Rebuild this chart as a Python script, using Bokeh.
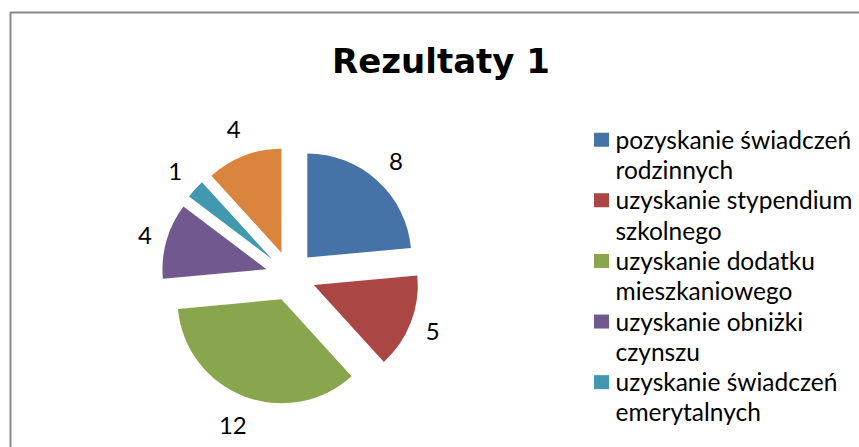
import numpy as np
from bokeh.plotting import figure
from bokeh.models import Range1d
from bokeh.core.properties import value
from bokeh.embed import file_html
from bokeh.resources import INLINE

# ---- data ----
title = "Rezultaty 1"
categories = [
    "pozyskanie świadczeń rodzinnych",
    "uzyskanie stypendium szkolnego",
    "uzyskanie dodatku mieszkaniowego",
    "uzyskanie obniżki czynszu",
    "uzyskanie świadczeń emerytalnych",
    "",  # sixth legend entry is cut off in the original
]
values = [8, 5, 12, 4, 1, 4]
colors = ["#4572A7", "#AA4643", "#89A54E", "#71588F", "#4198AF", "#DB843D"]

# ---- layout (1 data unit = 1 screen pixel) ----
W, H = 859, 447
def X(px):
    return px
def Y(py):
    return H - py

TDY = 8  # empirical correction of text baseline placement
FONT = "Lato"
CX, CY = X(290), Y(275.5)
R = 104
EXPLODE = 25
LABEL_FS = 24

p = figure(width=W, height=H, output_backend="svg", toolbar_location=None,
           x_axis_location=None, y_axis_location=None,
           x_range=Range1d(0, W), y_range=Range1d(0, H),
           min_border=0, outline_line_color=None)
p.grid.visible = False
p.background_fill_color = "white"
p.border_fill_color = "white"

# chart-area border (only top and left edges are visible in the crop)
p.line(x=[X(10), X(10), X(1000)], y=[Y(600), Y(12), Y(12)],
       line_color="#878787", line_width=2)

# ---- exploded pie ----
vals = np.array(values, dtype=float)
frac = vals / vals.sum()
cum = np.concatenate([[0.0], np.cumsum(frac)])
start = np.pi / 2 - 2 * np.pi * cum[:-1]
end = np.pi / 2 - 2 * np.pi * cum[1:]
mid = (start + end) / 2
ux, uy = np.cos(mid), np.sin(mid)
cx = CX + EXPLODE * ux
cy = CY + EXPLODE * uy

p.wedge(x=cx, y=cy, radius=R, radius_units="screen",
        start_angle=start, end_angle=end, direction="clock",
        fill_color=colors, line_color=None)

# data labels (outside end)
lab = [str(v) for v in values]
wlab = np.array([13.0 * len(s) for s in lab])
hlab = 30.0
dist = EXPLODE + R + 12 + np.abs(ux) * wlab / 2 + np.abs(uy) * hlab / 2
lx = CX + dist * ux
ly = CY + dist * uy - 0.36 * LABEL_FS + TDY
p.text(x=lx, y=ly, text=lab, text_font=value(FONT), text_font_size=f"{LABEL_FS}px",
       text_color="#000000", text_align="center", text_baseline="alphabetic")

# ---- title ----
p.text(x=[X(440.5)], y=[Y(68) + TDY], text=[title], text_font=value("DejaVu Sans"),
       text_font_size="34px", text_font_style="bold", text_color="#000000",
       text_align="center", text_baseline="alphabetic")

# ---- legend (manually laid out, wrapped at last word) ----
LINE0 = 140.25
STEP = 30.3
line = 0
sq_x, sq_y, sq_c = [], [], []
tx, ty, tt = [], [], []
for name, col in zip(categories, colors):
    if not name:
        continue
    parts = name.rsplit(" ", 1)
    lines = [parts[0], parts[1]] if len(parts) == 2 else [name]
    if LINE0 + STEP * (line + len(lines) - 1) + 8 > H:
        break
    sq_x.append(X(601))
    sq_y.append(Y(LINE0 + STEP * line - 1))
    sq_c.append(col)
    for t in lines:
        tx.append(X(615))
        ty.append(Y(LINE0 + STEP * line + 6.5) + TDY)
        tt.append(t)
        line += 1

p.rect(x=sq_x, y=sq_y, width=15, height=14, width_units="screen", height_units="screen",
       fill_color=sq_c, line_color=None)
p.text(x=tx, y=ty, text=tt, text_font=value(FONT), text_font_size="24.5px",
       text_color="#000000", text_align="left", text_baseline="alphabetic")

open("out.html", "w").write(file_html(p, INLINE))
